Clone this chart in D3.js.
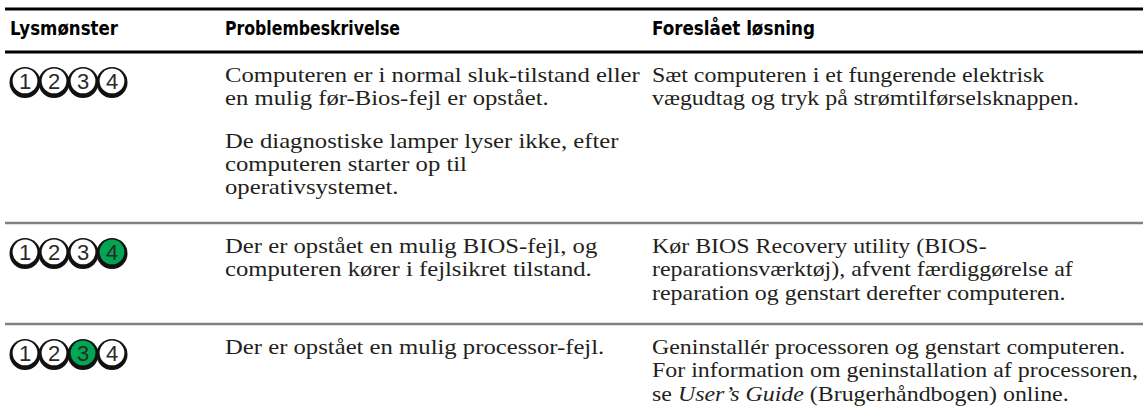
<!DOCTYPE html>
<html><head><meta charset="utf-8">
<script src="https://cdn.jsdelivr.net/npm/d3@7/dist/d3.min.js"></script>
<style>
html,body{margin:0;padding:0;background:#fff;}
svg{display:block;}
</style></head>
<body>
<div id="chart"></div>
<script>
// ---- data ----
const headers = ["Lysmønster", "Problembeskrivelse", "Foreslået løsning"];
const lightPatterns = [
  [0, 0, 0, 0],
  [0, 0, 0, 1],
  [0, 0, 1, 0]
];
const lightLabels = ["1", "2", "3", "4"];
const problemText = [
  [["Computeren er i normal sluk-tilstand eller", "en mulig før-Bios-fejl er opstået."],
   ["De diagnostiske lamper lyser ikke, efter", "computeren starter op til", "operativsystemet."]],
  [["Der er opstået en mulig BIOS-fejl, og", "computeren kører i fejlsikret tilstand."]],
  [["Der er opstået en mulig processor-fejl."]]
];
const solutionText = [
  [["Sæt computeren i et fungerende elektrisk", "vægudtag og tryk på strømtilførselsknappen."]],
  [["Kør BIOS Recovery utility (BIOS-", "reparationsværktøj), afvent færdiggørelse af", "reparation og genstart derefter computeren."]],
  [["Geninstallér processoren og genstart computeren.", "For information om geninstallation af processoren,", "se *User’s Guide* (Brugerhåndbogen) online."]]
];

// ---- layout ----
const W = 1145, H = 415;
const colX = [10, 225, 652];
const headerWidths = [108, 175, 163];
const lineX0 = 5, lineX1 = 1143;
const headerTop = 9, headerBottom = 52;
const rowTops = [52, 223, 324];
const lineH = 23.3, paraGap = 19, firstBase = 30;
const bodySize = 22;
// reference widths used to calibrate the horizontal stretch of each text column
const calib = [null, {line: problemText[0][0][0], width: 415}, {line: solutionText[2][0][1], width: 486}];
const green = "#00a651";
const ink = "#231f20";
const serif = "'Liberation Serif', 'DejaVu Serif', serif";
const condensed = "'Liberation Sans Narrow', 'DejaVu Sans Condensed', 'Liberation Sans', sans-serif";

const svg = d3.select("#chart").append("svg").attr("width", W).attr("height", H);

function measure(str) {
  const probe = svg.append("text").attr("font-family", serif).attr("font-size", bodySize).text(str);
  const w = probe.node().getComputedTextLength();
  probe.remove();
  return w;
}
const stretch = calib.map(c => c ? c.width / measure(c.line) : 1);

// header rules
svg.append("line").attr("x1", lineX0).attr("x2", lineX1).attr("y1", headerTop).attr("y2", headerTop)
  .attr("stroke", "#000").attr("stroke-width", 3);
svg.append("line").attr("x1", lineX0).attr("x2", lineX1).attr("y1", headerBottom).attr("y2", headerBottom)
  .attr("stroke", "#000").attr("stroke-width", 3);
// row separators
[rowTops[1], rowTops[2]].forEach(y => {
  svg.append("line").attr("x1", lineX0).attr("x2", lineX1).attr("y1", y).attr("y2", y)
    .attr("stroke", "#808080").attr("stroke-width", 2.5);
});

// headers
svg.selectAll("text.hdr").data(headers).join("text").attr("class", "hdr")
  .attr("x", (d, i) => colX[i]).attr("y", 35)
  .attr("font-family", condensed).attr("font-weight", "bold").attr("font-size", 20)
  .attr("textLength", (d, i) => headerWidths[i]).attr("lengthAdjust", "spacingAndGlyphs")
  .attr("fill", "#000").text(d => d);

// light icons
const lx = d3.scaleLinear().domain([0, 3]).range([25, 112]);
lightPatterns.forEach((pat, r) => {
  const cy = rowTops[r] + 30.5;
  const g = svg.append("g");
  const items = pat.map((on, i) => ({on, i}));
  g.selectAll("circle.outer").data(items).join("circle").attr("class", "outer")
    .attr("cx", d => lx(d.i)).attr("cy", cy).attr("r", 15.5).attr("fill", "#111");
  g.selectAll("circle.inner").data(items).join("circle").attr("class", "inner")
    .attr("cx", d => lx(d.i)).attr("cy", cy - 1.6).attr("r", 12.4)
    .attr("fill", d => d.on ? green : "#fff");
  g.selectAll("text").data(items).join("text")
    .attr("x", d => lx(d.i)).attr("y", cy + 6.5).attr("text-anchor", "middle")
    .attr("font-family", "'Liberation Sans', Arial, sans-serif").attr("font-size", 22)
    .attr("fill", "#2a2a2a").text(d => lightLabels[d.i]);
});

// text blocks
function drawBlock(paras, col, top) {
  const x = colX[col];
  let y = top + firstBase;
  paras.forEach((lines, pi) => {
    if (pi > 0) y += paraGap;
    lines.forEach(line => {
      const t = svg.append("text")
        .attr("transform", `translate(${x},${y}) scale(${stretch[col]},1)`)
        .attr("font-family", serif).attr("font-size", bodySize).attr("fill", ink);
      const parts = line.split("*");
      parts.forEach((p, k) => {
        if (!p) return;
        t.append("tspan").attr("font-style", k % 2 ? "italic" : "normal").text(p);
      });
      y += lineH;
    });
  });
}
problemText.forEach((paras, r) => drawBlock(paras, 1, rowTops[r]));
solutionText.forEach((paras, r) => drawBlock(paras, 2, rowTops[r]));
</script>
</body></html>
